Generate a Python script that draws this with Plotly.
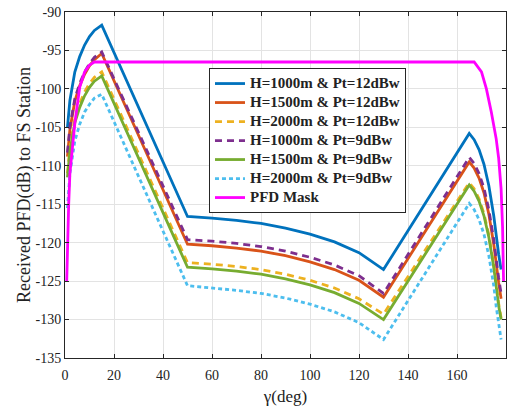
import plotly.graph_objects as go

# ---- data ----
gamma = [1, 2, 4, 6, 8, 10, 12, 15,
         50, 60, 70, 80, 90, 100, 110, 120, 130,
         165, 167, 169, 171, 173, 175, 176, 177, 178]

h1000_pt12 = [-105.0, -101.5, -97.8, -95.8, -94.3, -93.2, -92.4, -91.7,
              -116.6, -116.8, -117.1, -117.5, -118.1, -118.9, -119.9, -121.3, -123.5,
              -105.8, -106.6, -107.9, -109.8, -112.6, -116.5, -119.2, -121.5, -123.5]
h1500_pt12 = [-108.8, -105.3, -101.6, -99.6, -98.1, -97.0, -96.2, -95.4,
              -120.2, -120.4, -120.7, -121.1, -121.7, -122.5, -123.5, -124.9, -127.1,
              -109.5, -110.3, -111.6, -113.5, -116.3, -120.2, -122.9, -125.2, -127.3]
h2000_pt12 = [-111.0, -107.6, -103.9, -101.9, -100.4, -99.3, -98.5, -97.8,
              -122.6, -122.8, -123.1, -123.5, -124.1, -124.9, -125.9, -127.3, -129.3,
              -112.2, -113.0, -114.3, -116.2, -119.0, -122.9, -125.6, -127.9, -129.8]
h1000_pt9 = [-108.3, -104.9, -101.3, -99.3, -97.8, -96.7, -95.9, -95.2,
             -119.6, -119.8, -120.1, -120.5, -121.1, -121.9, -122.9, -124.3, -126.6,
             -108.9, -109.7, -111.0, -112.9, -115.7, -119.6, -122.3, -124.6, -126.6]
h1500_pt9 = [-111.5, -108.1, -104.4, -102.4, -100.9, -99.8, -99.0, -98.3,
             -123.2, -123.4, -123.7, -124.1, -124.7, -125.5, -126.5, -127.9, -130.0,
             -112.5, -113.3, -114.6, -116.5, -119.3, -123.2, -125.9, -128.2, -130.0]
h2000_pt9 = [-115.5, -111.0, -106.8, -104.6, -103.0, -102.0, -101.2, -100.7,
             -125.6, -125.9, -126.2, -126.6, -127.2, -128.0, -129.0, -130.4, -132.6,
             -114.9, -115.7, -117.0, -118.9, -121.7, -125.6, -128.3, -130.6, -132.6]

mask_gamma = [0.7, 1.0, 1.5, 2, 3, 4, 6, 8, 10, 12, 15,
              167, 170, 172, 174, 176, 177, 178, 178.6, 179]
mask_pfd = [-125.0, -120.5, -115.0, -111.0, -107.5, -104.5, -99.8, -97.8, -96.9, -96.5, -96.5,
            -96.5, -97.8, -100.0, -103.0, -106.5, -109.0, -113.0, -118.0, -125.0]

names = ["H=1000m & Pt=12dBw", "H=1500m & Pt=12dBw", "H=2000m & Pt=12dBw",
         "H=1000m & Pt=9dBw", "H=1500m & Pt=9dBw", "H=2000m & Pt=9dBw"]
mask_name = "PFD Mask"

x_ticks = [0, 20, 40, 60, 80, 100, 120, 140, 160, 180]
y_ticks = [-90, -95, -100, -105, -110, -115, -120, -125, -130, -135]
y_ticktext = ["-90", "-95", "-100", "-105", "-110", "-115", "-120", "-125", "-130", "-135"]

# ---- styles ----
series = [h1000_pt12, h1500_pt12, h2000_pt12, h1000_pt9, h1500_pt9, h2000_pt9]
colors = ["#0072BD", "#D95319", "#EDB120", "#7E2F8E", "#77AC30", "#4DBEEE"]
dashes = ["solid", "solid", "7px,5px", "7px,5px", "solid", "4px,3px"]

FONT = "Liberation Serif"


def legend_label(s):
    return '<span style="font-size:15px">' + s + '</span>'


fig = go.Figure()
for ys, nm, c, d in zip(series, names, colors, dashes):
    fig.add_trace(go.Scatter(x=gamma, y=ys, name=legend_label(nm), mode="lines",
                             line=dict(color=c, width=2.8, dash=d)))
fig.add_trace(go.Scatter(x=mask_gamma, y=mask_pfd, name=legend_label(mask_name), mode="lines",
                         line=dict(color="#FF00FF", width=2.8)))

axis_common = dict(showline=True, linecolor="#262626", linewidth=1, mirror="ticks",
                   ticks="inside", ticklen=4, tickcolor="#262626",
                   showgrid=True, gridcolor="#E3E3E3", gridwidth=1, zeroline=False,
                   automargin=False)

fig.update_xaxes(range=[0, 180], tickvals=x_ticks, **axis_common,
                 tickfont=dict(family=FONT, size=14, color="#222"), ticklabelstandoff=4,
                 title=dict(text="γ(deg)", font=dict(family=FONT, size=17, color="#222"), standoff=8))
fig.update_yaxes(range=[-135, -90], tickvals=y_ticks, ticktext=y_ticktext, **axis_common,
                 tickfont=dict(family=FONT, size=14, color="#222"),
                 title=dict(text="Received PFD(dB) to FS Station",
                            font=dict(family=FONT, size=18, color="#222"), standoff=0))

fig.update_layout(
    width=516, height=407,
    margin=dict(l=65, r=10, t=12, b=49),
    paper_bgcolor="white", plot_bgcolor="white",
    font=dict(family=FONT, color="#222"),
    legend=dict(x=0.3265, y=0.838, xanchor="left", yanchor="top",
                bgcolor="white", bordercolor="#262626", borderwidth=1,
                font=dict(family=FONT, size=11, color="#222", weight="bold"),
                tracegroupgap=0, itemwidth=30),
    showlegend=True,
)

fig.write_html("out.html")
